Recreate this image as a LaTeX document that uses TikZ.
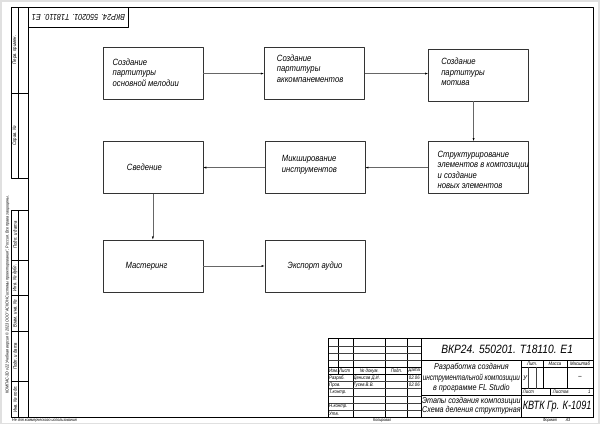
\documentclass[tikz,border=0pt]{standalone}
\usepackage{graphicx}
\usepackage{fontspec}
\setmainfont{Liberation Sans}[FakeStretch=0.85]
\usetikzlibrary{arrows.meta,positioning,calc}

\newcommand{\fitw}[2]{\resizebox{#1}{\height}{#2}}

\begin{document}
\begin{tikzpicture}[x=1mm, y=-1mm, line join=round,
  >={Latex[length=2.2mm,width=1.4mm,color=black]},
  frm/.style={line width=1.4pt},
  thn/.style={line width=0.7pt, black!75},
  blk/.style={draw=black!80, line width=1.1pt, minimum width=70mm, minimum height=36.5mm, inner sep=0pt},
  btxt/.style={font=\fontsize{18}{21}\selectfont\itshape, align=left, inner sep=0pt},
  lnk/.style={->, black!60, line width=0.9pt},
  sml/.style={font=\fontsize{10}{11}\selectfont\itshape, inner sep=0pt},
  foot/.style={font=\fontsize{8.5}{9}\selectfont\itshape, inner sep=0pt},
  strip/.style={font=\fontsize{10}{11}\selectfont\itshape, rotate=90, inner sep=0pt}]

% sheet
\fill[black!12] (0,0) rectangle (420,297);
\fill[white] (1.5,1.5) rectangle (418.5,296);
\useasboundingbox (0,0) rectangle (420,297);
\draw[frm] (20,5) rectangle (415,292);

% left strips
\draw[frm] (8,5) rectangle (20,125);
\draw[frm] (13,5) -- (13,125);
\draw[frm] (8,65) -- (20,65);
\draw[frm] (8,147) rectangle (20,292);
\draw[frm] (13,147) -- (13,292);
\foreach \yy in {182,207,232,267}
  \draw[frm] (8,\yy) -- (20,\yy);
\node[strip] (perv) at (10.5,35) {Перв. примен.};
\node[strip] (sprav) at (10.5,95) {Справ. №};
\node[strip] (pod1) at (10.5,164.5) {Подп. и дата};
\node[strip] (dubl) at (10.5,194.5) {Инв. № дубл.};
\node[strip] (vzam) at (10.5,219.5) {Взам. инв. №};
\node[strip] (pod2) at (10.5,249.5) {Подп. и дата};
\node[strip] (podl) at (10.5,279.5) {Инв. № подл.};
\node[font=\fontsize{8.6}{9}\selectfont\itshape, rotate=90, inner sep=0pt] (kompas) at (5.3,206)
  {КОМПАС-3D v22 Учебная версия © 2023 ООО "АСКОН-Системы проектирования", Россия. Все права защищены.};

% top-left stamp
\draw[frm] (20,19) -- (90,19) -- (90,5);
\node[font=\fontsize{17}{18}\selectfont\itshape, rotate=180, inner sep=0pt] (stamp) at (55,12) {ВКР24. 550201. Т18110. Е1};

% title block
\draw[frm] (230,237) rectangle (415,292);
\draw[frm] (237,237) -- (237,262);
\foreach \xx in {247,270,285,295}
  \draw[frm] (\xx,237) -- (\xx,292);
\foreach \yy in {242,247,252,267,272,277,282,287}
  \draw[thn] (230,\yy) -- (295,\yy);
\draw[frm] (230,257) -- (295,257);
\draw[frm] (230,262) -- (295,262);
\draw[frm] (295,252) -- (415,252);
\draw[frm] (295,277) -- (415,277);
\draw[frm] (365,252) -- (365,292);
\draw[frm] (365,257) -- (415,257);
\draw[frm] (365,272) -- (415,272);
\draw[frm] (380,252) -- (380,272);
\draw[frm] (397,252) -- (397,272);
\draw[thn] (370,257) -- (370,272);
\draw[thn] (375,257) -- (375,272);
\draw[frm] (385,272) -- (385,277);

\node[sml, anchor=west] (hIzm) at (230.4,259.5) {\fitw{6.2mm}{Изм.}};
\node[sml, anchor=west] (hList) at (237.4,259.5) {Лист};
\node[sml] (hDoc) at (258.5,259.5) {№ докум.};
\node[sml] (hPodp) at (277.5,259.5) {Подп.};
\node[sml] (hData) at (290,259.5) {Дата};
\node[sml, anchor=west] (rRazr) at (230.4,264.5) {Разраб.};
\node[sml, anchor=west] (nRazr) at (247.4,264.5) {Денисов Д.И.};
\node[sml] (dRazr) at (290,264.5) {02.06};
\node[sml, anchor=west] (rProv) at (230.4,269.5) {Пров.};
\node[sml, anchor=west] (nProv) at (247.4,269.5) {Гусев В.В.};
\node[sml] (dProv) at (290,269.5) {02.06};
\node[sml, anchor=west] (rTk) at (230.4,274.5) {Т.контр.};
\node[sml, anchor=west] (rNk) at (230.4,284.5) {Н.контр.};
\node[sml, anchor=west] (rUtv) at (230.4,289.5) {Утв.};

\node[sml] (hLit) at (372.5,254.5) {Лит.};
\node[sml] (hMas) at (388.5,254.5) {Масса};
\node[sml] (hMsh) at (406,254.5) {Масштаб};
\node[font=\fontsize{14}{15}\selectfont\itshape, inner sep=0pt] (vLit) at (367.5,264.5) {У};
\node[font=\fontsize{14}{15}\selectfont\itshape, inner sep=0pt] (vMsh) at (406,264.5) {–};
\node[sml, anchor=west] (hSh) at (366,274.5) {Лист};
\node[sml, anchor=west] (hShs) at (387,274.5) {Листов};
\node[sml] (vShs) at (412.5,274.5) {1};

\node[font=\fontsize{24}{26}\selectfont\itshape, inner sep=0pt] (desig) at (355,244.5) {ВКР24. 550201. Т18110. Е1};
\node[font=\fontsize{17}{21}\selectfont\itshape, align=center, inner sep=0pt] (name) at (330,264.5)
  {Разработка создания\\\fitw{68mm}{инструментальной композиции}\\в программе FL Studio};
\node[font=\fontsize{17}{18}\selectfont\itshape, align=center, inner sep=0pt] (dname) at (330,284.3)
  {\fitw{69mm}{Этапы создания композиции}\\\fitw{69mm}{Схема деления структурная}};
\node[font=\fontsize{24}{26}\selectfont\itshape, inner sep=0pt] (org) at (390,284.5) {\fitw{48mm}{КВТК Гр. К-1091}};

% under the frame
\node[foot, anchor=west] (ncom) at (8.5,294.2) {Не для коммерческого использования};
\node[foot] (kop) at (267.5,294.2) {Копировал};
\node[foot] (fmt) at (385,294.2) {Формат};
\node[foot] (fmtA) at (397.6,294.2) {А3};

% stages
\node[blk] (mel) at (107,51.5) {};
\node[blk] (acc) at (220,51.5) {};
\node[blk] (mot) at (335,52.5) {};
\node[blk] (str) at (334.7,117.3) {};
\node[blk] (mix) at (220.5,117.3) {};
\node[blk] (sve) at (107,117.3) {};
\node[blk] (mas) at (107,186.2) {};
\node[blk] (exp) at (220.5,186.2) {};

\node[btxt, anchor=west] (melT) at ([xshift=7mm, yshift=0.7mm]mel.west) {Создание\\партитуры\\основной мелодии};
\node[btxt, anchor=west] (accT) at ([xshift=9mm, yshift=3.5mm]acc.west) {Создание\\партитуры\\аккомпанементов};
\node[btxt, anchor=west] (motT) at ([xshift=9mm, yshift=2mm]mot.west) {Создание\\партитуры\\мотива};
\node[btxt, anchor=west] (strT) at ([xshift=6.8mm, yshift=-1.7mm]str.west) {Структурирование\\элементов в композиции\\и создание\\новых элементов};
\node[btxt, anchor=west] (mixT) at ([xshift=12mm, yshift=2mm]mix.west) {Микширование\\инструментов};
\node[btxt, anchor=west] (sveT) at ([xshift=17mm]sve.west) {Сведение};
\node[btxt, anchor=west] (masT) at ([xshift=16mm]mas.west) {Мастеринг};
\node[btxt, anchor=west] (expT) at ([xshift=16mm]exp.west) {Экспорт аудио};

\draw[lnk] (mel) -- (acc);
\draw[lnk] (acc.east) -- (acc.east -| mot.west);
\draw[lnk] ([xshift=-3.5mm]mot.south) -- ([xshift=-3.5mm]mot.south |- str.north);
\draw[lnk] (str) -- (mix);
\draw[lnk] (mix) -- (sve);
\draw[lnk] (sve) -- (mas);
\draw[lnk] (mas) -- (exp);
\end{tikzpicture}
\end{document}
